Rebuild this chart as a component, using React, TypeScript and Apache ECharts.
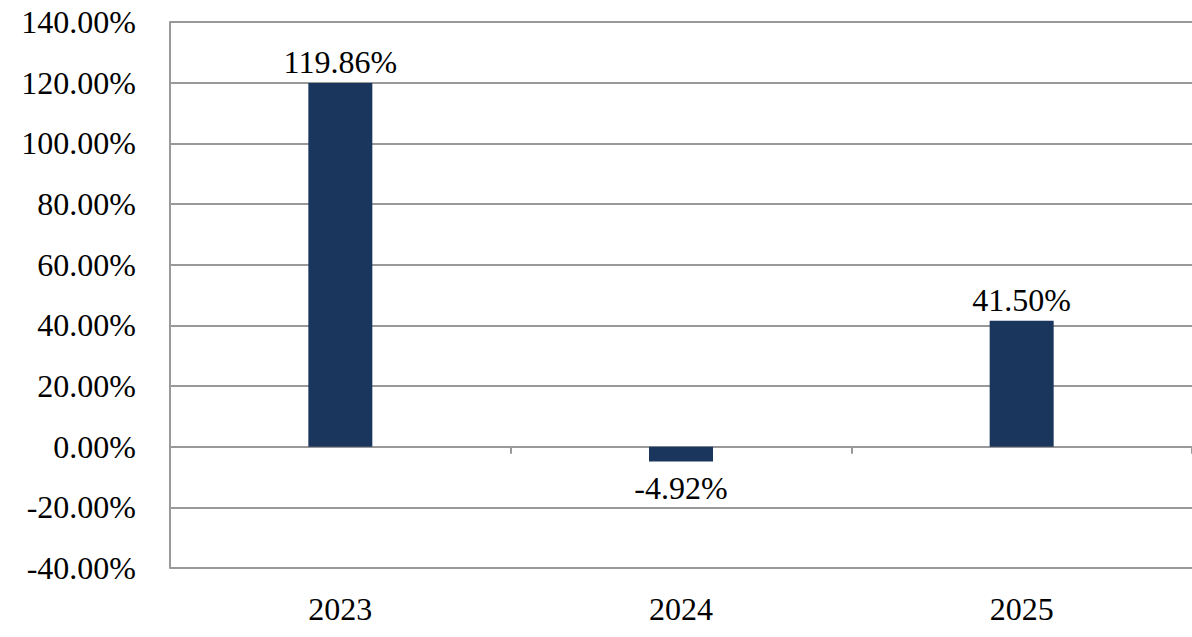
import React, { useEffect, useRef } from "react";
import * as echarts from "echarts";

const categories = ["2023", "2024", "2025"];
const values = [119.86, -4.92, 41.5];
const yMin = -40;
const yMax = 140;
const yStep = 20;

const FONT = "Liberation Serif";

export default function App() {
  const ref = useRef<HTMLDivElement>(null);
  useEffect(() => {
    document.body.style.margin = "0";
    const chart = echarts.init(ref.current!, null, { renderer: "svg" });
    chart.setOption({
      animation: false,
      backgroundColor: "#ffffff",
      grid: { left: 170, right: 0, top: 22, bottom: 69 },
      xAxis: [
        {
          type: "category",
          data: categories,
          position: "bottom",
          axisLine: { show: false, onZero: false },
          axisTick: { show: false },
          axisLabel: { color: "#000", fontFamily: FONT, fontSize: 32, margin: 25 },
        },
        {
          type: "category",
          data: categories,
          position: "bottom",
          axisLine: { show: true, onZero: true, lineStyle: { color: "#999999", width: 2 } },
          axisTick: { show: true, length: 7, lineStyle: { color: "#999999", width: 2 } },
          axisLabel: { show: false },
        },
      ],
      yAxis: {
        type: "value",
        min: yMin,
        max: yMax,
        interval: yStep,
        axisLine: { show: true, lineStyle: { color: "#999999", width: 2 } },
        axisTick: { show: false },
        splitLine: { show: true, lineStyle: { color: "#999999", width: 2 } },
        axisLabel: {
          color: "#000",
          fontFamily: FONT,
          fontSize: 32,
          margin: 34,
          formatter: (v: number) => v.toFixed(2) + "%",
        },
      },
      series: [
        {
          type: "bar",
          xAxisIndex: 0,
          barWidth: 64,
          itemStyle: { color: "#1b365d" },
          data: values.map((v) => ({
            value: v,
            label: { position: v >= 0 ? "top" : "bottom", distance: v >= 0 ? 5 : 10 },
          })),
          label: {
            show: true,
            color: "#000",
            fontFamily: FONT,
            fontSize: 32,
            formatter: (p: any) => p.value.toFixed(2) + "%",
          },
        },
      ],
    });
    return () => chart.dispose();
  }, []);
  return <div ref={ref} style={{ width: 1192, height: 637 }} />;
}
